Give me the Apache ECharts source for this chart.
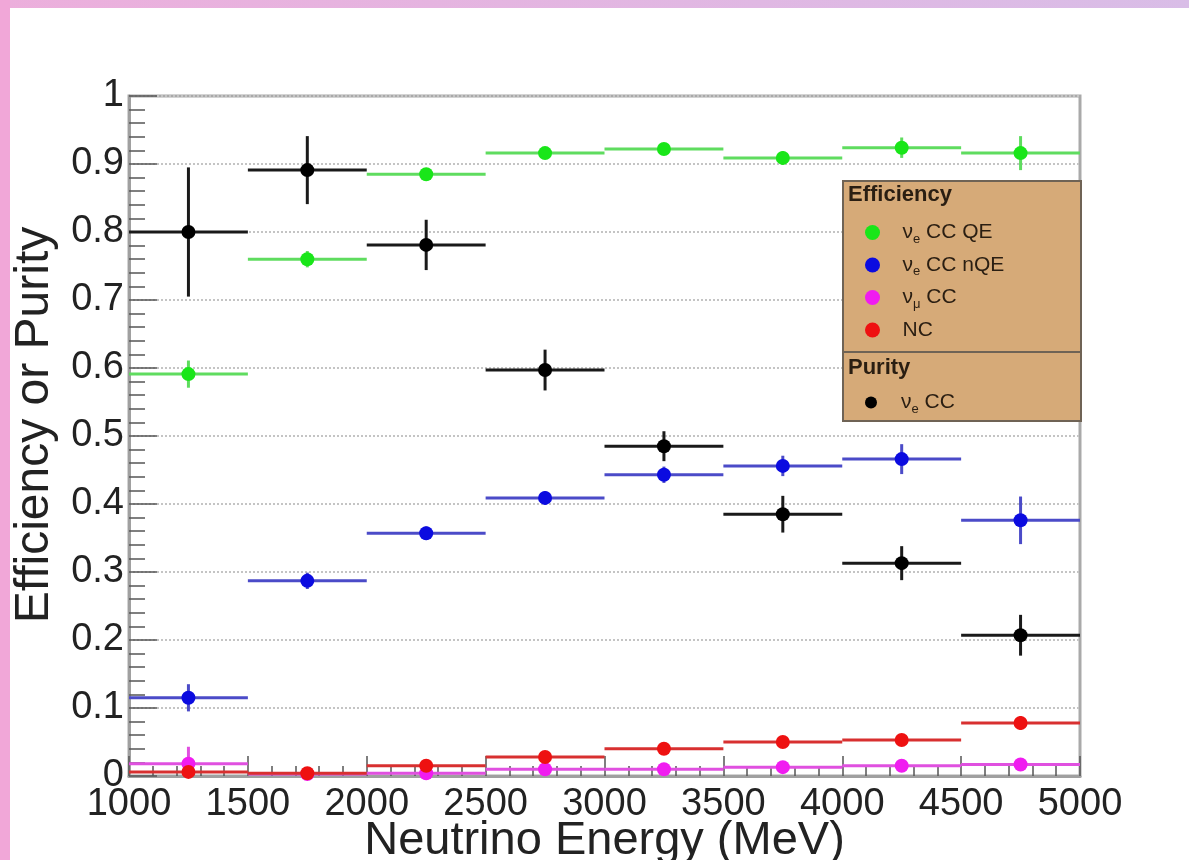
<!DOCTYPE html>
<html>
<head>
<meta charset="utf-8">
<script src="https://cdn.jsdelivr.net/npm/echarts@6/dist/echarts.min.js"></script>
<style>
  html, body { margin: 0; padding: 0; background: #fff; }
  #page { position: relative; width: 1189px; height: 860px; overflow: hidden; background: #fff; }
  #topband { position: absolute; left: 0; top: 0; width: 1189px; height: 8px;
    background: linear-gradient(to right, #ecafdc, #d9bde7); }
  #leftband { position: absolute; left: 0; top: 0; width: 10px; height: 860px; background: #f1a7d8; }
  #chart { position: absolute; left: 0; top: 0; width: 1189px; height: 860px; }
</style>
</head>
<body>
<div id="page">
  <div id="topband"></div>
  <div id="leftband"></div>
  <div id="chart"></div>
</div>
<script>
// bins in MeV
const binLow = [1000, 1500, 2000, 2500, 3000, 3500, 4000, 4500];
const binHigh = [1500, 2000, 2500, 3000, 3500, 4000, 4500, 5000];

// efficiencies
const qeEff = [0.591, 0.760, 0.885, 0.916, 0.922, 0.909, 0.924, 0.916];
const qeErr = [0.020, 0.012, 0.008, 0.008, 0.008, 0.010, 0.015, 0.025];
const nqeEff = [0.115, 0.287, 0.357, 0.409, 0.443, 0.456, 0.466, 0.376];
const nqeErr = [0.020, 0.012, 0.010, 0.010, 0.012, 0.015, 0.022, 0.035];
const numuEff = [0.018, 0.003, 0.004, 0.010, 0.010, 0.013, 0.015, 0.017];
const numuErr = [0.025, 0.004, 0.004, 0.004, 0.004, 0.004, 0.005, 0.006];
const ncEff = [0.006, 0.004, 0.015, 0.028, 0.040, 0.050, 0.053, 0.078];
const ncErr = [0.006, 0.004, 0.005, 0.005, 0.005, 0.006, 0.006, 0.010];
// purity
const purity = [0.800, 0.891, 0.781, 0.597, 0.485, 0.385, 0.313, 0.207];
const purityErr = [0.095, 0.050, 0.037, 0.030, 0.022, 0.027, 0.025, 0.030];

const FONT = "Liberation Sans";
const LEG_TXT = "#2a1e12";

function rows(vals, errs) {
  return vals.map((v, i) => [binLow[i], binHigh[i], v, errs[i]]);
}

function histSeries(name, vals, errs, color, lineColor, r) {
  return {
    name: name,
    type: "custom",
    itemStyle: { color: color },
    data: rows(vals, errs),
    encode: { x: [0, 1], y: 2 },
    renderItem: function (params, api) {
      const y = api.value(2);
      const e = api.value(3);
      const pL = api.coord([api.value(0), y]);
      const pR = api.coord([api.value(1), y]);
      const cx = (pL[0] + pR[0]) / 2;
      const top = api.coord([api.value(0), y + e])[1];
      const bot = api.coord([api.value(0), Math.max(0, y - e)])[1];
      return {
        type: "group",
        children: [
          { type: "line", shape: { x1: pL[0], y1: pL[1], x2: pR[0], y2: pR[1] },
            style: { stroke: lineColor, lineWidth: 3 } },
          { type: "line", shape: { x1: cx, y1: top, x2: cx, y2: bot },
            style: { stroke: lineColor, lineWidth: 3 } },
          { type: "circle", shape: { cx: cx, cy: pL[1], r: r },
            style: { fill: color } },
        ],
      };
    },
  };
}

function nuLabel(name) {
  // "ν_e CC QE" style names: greek nu with subscript flavour
  const m = name.match(/^ν_(\S+)(.*)$/);
  if (!m) return "{g|}{n|" + name + "}";
  return "{g|}{n|ν}{s|" + m[1] + "}{n|" + m[2] + "}";
}

const legendRich = {
  g: { width: 5 },
  n: { fontSize: 21, fontFamily: FONT, color: LEG_TXT, lineHeight: 26, verticalAlign: "middle" },
  s: { fontSize: 13, fontFamily: FONT, color: LEG_TXT, lineHeight: 26, verticalAlign: "bottom" },
};

const chart = echarts.init(document.getElementById("chart"));
chart.setOption({
  backgroundColor: "transparent",
  animation: false,
  grid: {
    left: 129, right: 109, top: 96, bottom: 84,
    containLabel: false, outerBoundsMode: "none",
    show: true, borderColor: "#a9a9a9", borderWidth: 3,
  },
  xAxis: {
    type: "value",
    min: 1000, max: 5000, interval: 500,
    name: "Neutrino Energy (MeV)",
    nameLocation: "middle",
    nameGap: 42,
    nameMoveOverlap: false,
    nameTextStyle: { fontSize: 47, fontFamily: FONT, color: "#222" },
    axisLine: { lineStyle: { color: "#a0a0a0", width: 3 } },
    axisTick: { inside: true, length: 20, lineStyle: { color: "#555", width: 1.5 } },
    minorTick: { show: true, splitNumber: 5, length: 10, lineStyle: { color: "#555", width: 1.5 } },
    axisLabel: {
      fontSize: 38, fontFamily: FONT, color: "#222", margin: 10,
      formatter: (v) => String(v),
    },
    splitLine: { show: false },
  },
  yAxis: {
    type: "value",
    min: 0, max: 1, interval: 0.1,
    name: "Efficiency or Purity",
    nameLocation: "middle",
    nameGap: 70,
    nameMoveOverlap: false,
    nameTextStyle: { fontSize: 48, fontFamily: FONT, color: "#222", padding: [0, 0, 0, 22] },
    axisLine: { lineStyle: { color: "#a0a0a0", width: 3 } },
    axisTick: { inside: true, length: 28, lineStyle: { color: "#555", width: 1.5 } },
    minorTick: { show: true, splitNumber: 5, length: 16, lineStyle: { color: "#555", width: 1.5 } },
    axisLabel: {
      fontSize: 38, fontFamily: FONT, color: "#222", margin: 5,
      formatter: (v) => (v === 0 ? "0" : v === 1 ? "1" : v.toFixed(1)),
    },
    splitLine: { show: true, lineStyle: { color: "#c4c4c4", type: "dotted", width: 2 } },
  },
  legend: [
    {
      z: 30,
      data: ["ν_e CC QE", "ν_e CC nQE", "ν_μ CC", "NC"],
      orient: "vertical",
      left: 860, top: 217,
      itemWidth: 40, itemHeight: 15, itemGap: 9,
      icon: "circle",
      formatter: nuLabel,
      textStyle: { rich: legendRich },
    },
    {
      z: 30,
      data: ["ν_e CC"],
      orient: "vertical",
      left: 860, top: 387,
      itemWidth: 40, itemHeight: 12,
      icon: "circle",
      formatter: nuLabel,
      textStyle: { rich: legendRich },
    },
  ],
  graphic: [
    { type: "rect", z: 20, left: 842, top: 180, shape: { width: 238, height: 240 },
      style: { fill: "#d6aa78", stroke: "#6f6355", lineWidth: 2 } },
    { type: "line", z: 21, shape: { x1: 842, y1: 352, x2: 1080, y2: 352 },
      style: { stroke: "#6f6355", lineWidth: 2 } },
    { type: "text", z: 31, left: 848, top: 184,
      style: { text: "Efficiency", font: "bold 22px " + FONT, fill: LEG_TXT } },
    { type: "text", z: 31, left: 848, top: 357,
      style: { text: "Purity", font: "bold 22px " + FONT, fill: LEG_TXT } },
  ],
  series: [
    histSeries("ν_e CC QE", qeEff, qeErr, "#19e619", "#5fdc5f", 7),
    histSeries("ν_e CC nQE", nqeEff, nqeErr, "#0b0be0", "#4b4bc8", 7),
    histSeries("ν_μ CC", numuEff, numuErr, "#f01cf0", "#e050e0", 7),
    histSeries("NC", ncEff, ncErr, "#ee1111", "#d83030", 7),
    histSeries("ν_e CC", purity, purityErr, "#000000", "#1a1a1a", 7),
  ],
});
</script>
</body>
</html>
